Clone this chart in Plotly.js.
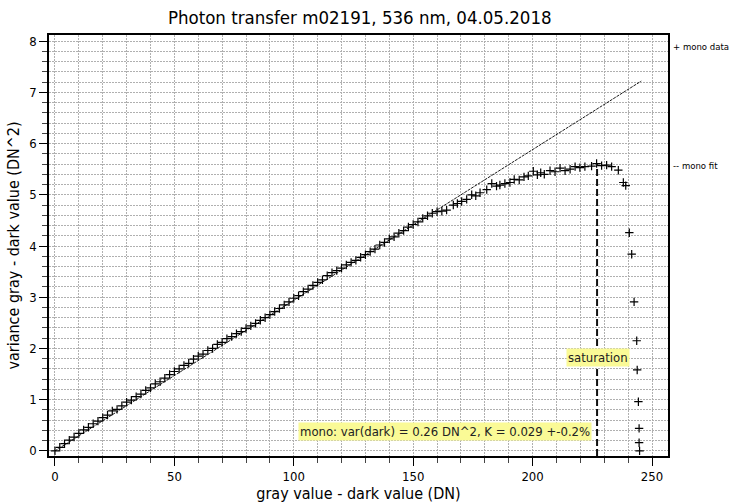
<!DOCTYPE html>
<html>
<head>
<meta charset="utf-8">
<script src="https://cdn.plot.ly/plotly-3.0.1.min.js"></script>
<style>html,body{margin:0;padding:0;background:#fff;}#chart{width:733px;height:504px;}</style>
</head>
<body>
<div id="chart"></div>
<script>
// mono data: gray value - dark value (DN)
var dataX = [0,2,4,6,8,10,12,14,16,18,20,22,24,26,28,30,32,34,36,38,40,42,44,46,48,50,
  52,54,56,58,60,62,64,66,68,70,72,74,76,78,80,82,84,86,88,90,92,94,96,98,100,
  102,104,106,108,110,112,114,116,118,120,122,124,126,128,130,132,134,136,138,140,
  142,144,146,148,150,152,154,156,158,160,162,164,166.8,168.5,170.3,172.4,174.5,176.2,178,180.8,
  182.9,184.9,186.3,188.4,190.5,192.3,194.4,196.4,198.2,200.3,202,203.4,204.9,207.3,209.4,
  211.5,213.6,215.7,217.8,219.8,221.9,224.7,226.8,228.9,231,233.1,235.9,238,239,240.5,241.5,
  242.5,243.6,243.8,244.3,244.6,244.6,244.8];
// variance gray - dark value (DN^2)
var dataY = [0,0.07,0.14,0.21,0.27,0.34,0.41,0.46,0.53,0.58,0.65,0.70,0.78,0.81,0.88,0.95,0.99,1.06,1.11,1.18,1.23,1.31,1.35,1.42,1.49,1.55,
  1.60,1.67,1.71,1.79,1.85,1.89,1.96,2.00,2.08,2.12,2.19,2.23,2.29,2.33,2.39,2.44,2.49,2.55,2.60,2.66,2.72,2.78,2.85,2.91,2.98,
  3.03,3.11,3.16,3.23,3.29,3.34,3.42,3.48,3.52,3.57,3.63,3.68,3.72,3.78,3.83,3.89,3.94,4.02,4.07,4.14,
  4.18,4.25,4.30,4.37,4.42,4.47,4.54,4.59,4.64,4.67,4.68,4.70,4.80,4.83,4.87,4.91,5.00,4.98,5.04,5.10,
  5.22,5.17,5.19,5.22,5.24,5.30,5.29,5.35,5.37,5.46,5.39,5.43,5.40,5.47,5.45,
  5.52,5.47,5.50,5.55,5.53,5.55,5.56,5.61,5.57,5.58,5.55,5.48,5.24,5.18,4.26,3.84,
  2.91,2.15,1.58,0.96,0.44,0.16,0.0];
// mono fit endpoints
var fitX = [0, 245.5];
var fitY = [0, 7.22];
// saturation marker
var satX = [227, 227];
var satY = [-0.1, 5.6];

var font = "'DejaVu Sans Condensed', 'DejaVu Sans', sans-serif";

var traces = [
  {x: fitX, y: fitY, mode: 'lines', name: 'mono fit', showlegend: false,
   line: {color: '#000', width: 0.9, dash: '3px,1px'}},
  {x: dataX, y: dataY, mode: 'markers', name: 'mono data', showlegend: false,
   marker: {symbol: 'cross-thin', size: 6, color: '#000', line: {color: '#000', width: 1.2}}},
  {x: satX, y: satY, mode: 'lines', name: 'saturation', showlegend: false,
   line: {color: '#111', width: 2, dash: '7px,3px'}}
];

var GC = '#b0b0b0', GD = '2px,1px';

var layout = {
  width: 733, height: 504,
  margin: {l: 49, r: 65, t: 35, b: 48},
  paper_bgcolor: '#fff', plot_bgcolor: '#fff',
  font: {family: font, color: '#000', size: 13},
  title: {text: 'Photon transfer m02191, 536 nm, 04.05.2018', font: {size: 18.5, family: font},
          xref: 'paper', x: 0.502, xanchor: 'center', yref: 'container', y: 1 - 18 / 504, yanchor: 'middle'},
  xaxis: {
    range: [-2.5, 256.7], tickmode: 'linear', tick0: 0, dtick: 50,
    ticks: 'outside', ticklen: 8, tickwidth: 1, tickcolor: '#000',
    showgrid: true, gridcolor: GC, griddash: GD, gridwidth: 1,
    minor: {dtick: 10, tick0: 0, ticks: 'outside', ticklen: 5, tickcolor: '#444', showgrid: true, gridcolor: GC, griddash: GD, gridwidth: 1},
    showline: true, linecolor: '#000', linewidth: 1.5, mirror: true, zeroline: false,
    tickfont: {size: 13},
    title: {text: 'gray value - dark value (DN)', font: {size: 16}, standoff: 2}
  },
  yaxis: {
    range: [-0.1, 8.12], tickmode: 'linear', tick0: 0, dtick: 1,
    ticks: 'outside', ticklen: 8, tickwidth: 1, tickcolor: '#000',
    showgrid: true, gridcolor: GC, griddash: GD, gridwidth: 1,
    minor: {dtick: 0.2, tick0: 0, ticks: 'outside', ticklen: 5, tickcolor: '#444', showgrid: true, gridcolor: GC, griddash: GD, gridwidth: 1},
    showline: true, linecolor: '#000', linewidth: 1.5, mirror: true, zeroline: false,
    tickfont: {size: 13},
    title: {text: 'variance gray - dark value (DN^2)', font: {size: 16}, standoff: 6}
  },
  annotations: [
    {x: 227.4, y: 1.83, xref: 'x', yref: 'y', text: 'saturation', showarrow: false,
     bgcolor: '#fafa96', font: {size: 13, color: '#222'}, borderpad: 1},
    {x: 163.3, y: 0.37, xref: 'x', yref: 'y', text: 'mono: var(dark) = 0.26 DN^2, K = 0.029 +-0.2%', showarrow: false,
     bgcolor: '#fafa96', font: {size: 13, color: '#222'}, borderpad: 1},
    {text: '+ mono data', showarrow: false, xref: 'paper', yref: 'paper', xanchor: 'left', yanchor: 'middle', font: {size: 9.5}, borderpad: 0},
    {text: '-- mono fit', showarrow: false, xref: 'paper', yref: 'paper', xanchor: 'left', yanchor: 'middle', font: {size: 9.5}, borderpad: 0}
  ]
};
// legend labels placed by pixel position to the right of the plot
var pw = 733 - 49 - 65, ph = 504 - 35 - 48;
layout.annotations[2].x = (672 - 49) / pw; layout.annotations[2].y = 1 - (47 - 35) / ph;
layout.annotations[3].x = (672 - 49) / pw; layout.annotations[3].y = 1 - (166 - 35) / ph;

Plotly.newPlot('chart', traces, layout, {displayModeBar: false, responsive: false});
</script>
</body>
</html>
